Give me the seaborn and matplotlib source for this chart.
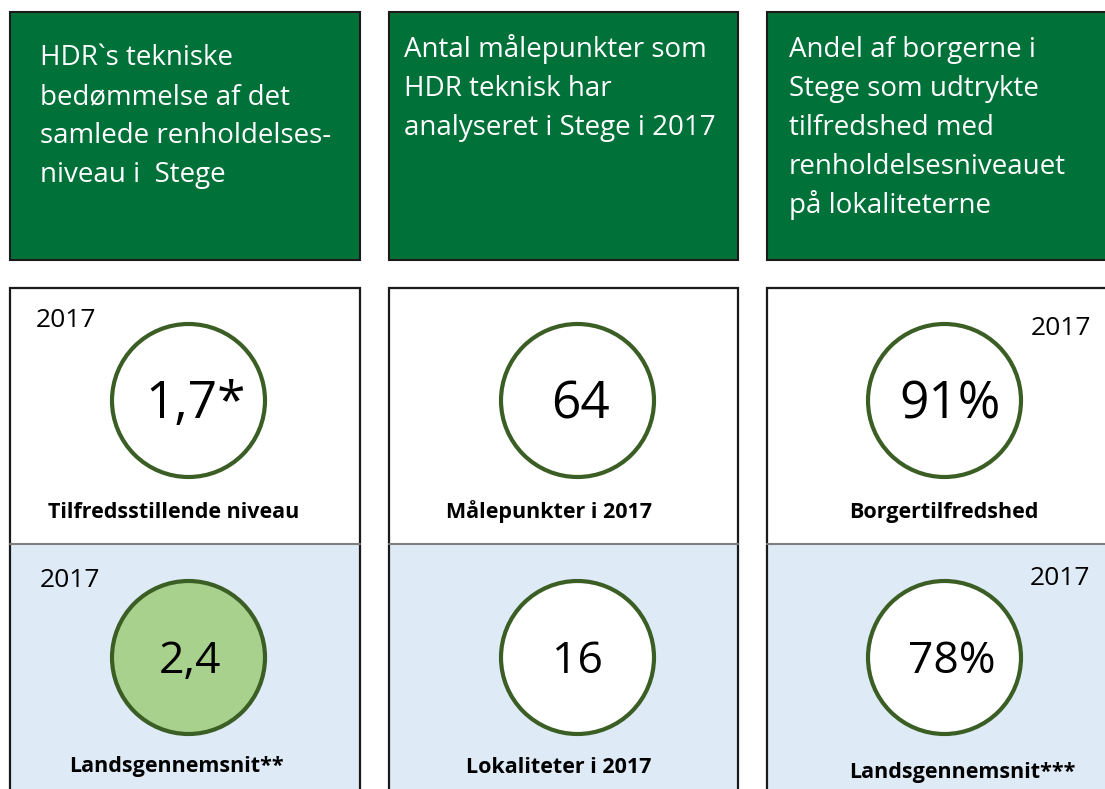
import matplotlib
matplotlib.use("Agg")
import matplotlib.pyplot as plt
from matplotlib.patches import Rectangle
import seaborn as sns
import pandas as pd

# ---------------- data ----------------
header_lines = [
    ["HDR`s tekniske", "bedømmelse af det", "samlede renholdelses-", "niveau i  Stege"],
    ["Antal målepunkter som", "HDR teknisk har", "analyseret i Stege i 2017"],
    ["Andel af borgerne i", "Stege som udtrykte", "tilfredshed med", "renholdelsesniveauet", "på lokaliteterne"],
]
top_values = ["1,7*", "64", "91%"]
top_labels = ["Tilfredsstillende niveau", "Målepunkter i 2017", "Borgertilfredshed"]
bottom_values = ["2,4", "16", "78%"]
bottom_labels = ["Landsgennemsnit**", "Lokaliteter i 2017", "Landsgennemsnit***"]
year_label = "2017"
top_year_shown = [True, False, True]
bottom_year_shown = [True, False, True]
bottom_highlight = [True, False, False]

# ---------------- style ----------------
sns.set_theme(style="white")
plt.rcParams["font.family"] = ["Open Sans", "DejaVu Sans"]

HEADER_GREEN = "#007139"
RING = "#3b5e24"
LIGHT_GREEN = "#a9d18e"
LIGHT_BLUE = "#deebf7"

W, H, DPI = 1105, 789, 100
fig = plt.figure(figsize=(W / DPI, H / DPI), dpi=DPI)
ax = fig.add_axes([0, 0, 1, 1])
ax.set_xlim(0, W)
ax.set_ylim(H, 0)
ax.set_aspect("equal")
ax.axis("off")

# layout
col_left = [10, 389, 767]
col_width = [350, 349, 360]
header_top, header_bot = 12, 260
panel_top, panel_mid, panel_bot = 288, 544, 800
circle_cx = [188, 577, 944]
circle_top_cy, circle_bot_cy = 400, 657
text_x0 = [40, 404, 789]
header_base0 = [65, 57, 57]
line_step = 39

for i in range(3):
    x0, w = col_left[i], col_width[i]
    ax.add_patch(Rectangle((x0, header_top), w, header_bot - header_top,
                           facecolor=HEADER_GREEN, edgecolor="#1a1a1a", lw=1.5, zorder=1))
    for j, line in enumerate(header_lines[i]):
        ax.text(text_x0[i], header_base0[i] + j * line_step, line, color="white",
                fontsize=20, ha="left", va="baseline", zorder=3)
    ax.add_patch(Rectangle((x0, panel_top), w, panel_mid - panel_top,
                           facecolor="white", edgecolor="none", zorder=1))
    ax.add_patch(Rectangle((x0, panel_mid), w, panel_bot - panel_mid,
                           facecolor=LIGHT_BLUE, edgecolor="none", zorder=1))
    ax.plot([x0, x0, x0 + w, x0 + w], [panel_bot, panel_top, panel_top, panel_bot],
            color="#1a1a1a", lw=1.6, zorder=2, solid_joinstyle="miter")
    ax.plot([x0, x0 + w], [panel_mid, panel_mid], color="#7f7f7f", lw=1.5, zorder=2)

# circles via seaborn scatterplot
ring_diam_px = 153
s_val = (ring_diam_px * 72 / DPI) ** 2
circ = pd.DataFrame({
    "x": circle_cx + circle_cx,
    "y": [circle_top_cy] * 3 + [circle_bot_cy] * 3,
    "fill": ["white"] * 3 + [LIGHT_GREEN if h else "white" for h in bottom_highlight],
})
for fill, sub in circ.groupby("fill"):
    sns.scatterplot(data=sub, x="x", y="y", ax=ax, s=s_val, color=fill,
                    edgecolor=RING, linewidth=3.0, zorder=4, legend=False)
ax.set_xlim(0, W)
ax.set_ylim(H, 0)
ax.set_xlabel("")
ax.set_ylabel("")

# values
top_dx = [8, 4, 6]
bot_dx = [2, 0, 8]
for i in range(3):
    ax.text(circle_cx[i] + top_dx[i], circle_top_cy + 18, top_values[i],
            fontsize=37, ha="center", va="baseline", color="black", zorder=5)
    ax.text(circle_cx[i] + bot_dx[i], circle_bot_cy + 16, bottom_values[i],
            fontsize=32, ha="center", va="baseline", color="black", zorder=5)

# labels
top_label_x = [174, 549, 944]
bot_label_x = [176, 559, 962]
bot_label_y = [772, 773, 778]
for i in range(3):
    ax.text(top_label_x[i], 518, top_labels[i], fontsize=15.5, fontweight="bold",
            ha="center", va="baseline", color="black", zorder=5)
    ax.text(bot_label_x[i], bot_label_y[i], bottom_labels[i], fontsize=15.5,
            fontweight="bold", ha="center", va="baseline", color="black", zorder=5)

# year labels
top_year_pos = [(66, 327), None, (1061, 335)]
bot_year_pos = [(70, 587), None, (1060, 585)]
for i in range(3):
    if top_year_shown[i]:
        ax.text(*top_year_pos[i], year_label, fontsize=19, ha="center",
                va="baseline", color="black", zorder=5)
    if bottom_year_shown[i]:
        ax.text(*bot_year_pos[i], year_label, fontsize=19, ha="center",
                va="baseline", color="black", zorder=5)

fig.savefig("out.png", dpi=DPI, facecolor="white")
